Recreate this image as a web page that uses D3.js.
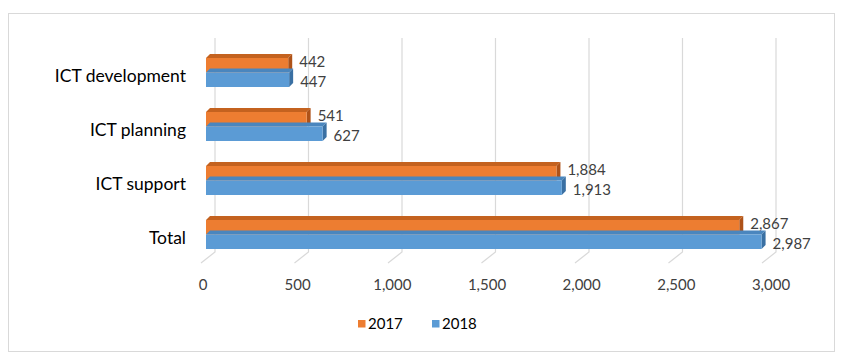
<!DOCTYPE html>
<html><head><meta charset="utf-8">
<script src="https://cdn.jsdelivr.net/npm/d3@7"></script>
<style>
html,body{margin:0;padding:0;background:#fff;}
svg{display:block;font-family:Lato,"Open Sans",sans-serif;}
</style></head>
<body>
<script>
const categories = ["ICT development", "ICT planning", "ICT support", "Total"];
const seriesNames = ["2017", "2018"];
const values2017 = [442, 541, 1884, 2867];
const values2018 = [447, 627, 1913, 2987];
const tickValues = [0, 500, 1000, 1500, 2000, 2500, 3000];

const W = 850, H = 359;
const svg = d3.select("body").append("svg").attr("width", W).attr("height", H);

const colors = {
  "2017": {front: "#ED7D31", top: "#C4621F", side: "#AE5218"},
  "2018": {front: "#5B9BD5", top: "#4A86BE", side: "#3A70A3"}
};

// frame
svg.append("rect").attr("x", 8.5).attr("y", 13.5).attr("width", 826).attr("height", 338)
  .attr("fill", "#fff").attr("stroke", "#d9d9d9").attr("stroke-width", 1);

const xBack = d3.scaleLinear().domain([0, 3000]).range([215, 776]);
const xBar = d3.scaleLinear().domain([0, 3000]).range([206, 764]);
const xLab = d3.scaleLinear().domain([0, 3000]).range([203, 771]);
const y = d3.scaleBand().domain(categories).range([45.5, 261.5]);
const ySub = d3.scaleBand().domain(seriesNames).range([-14.5, 14.5]);

const backTop = 38, backBottom = 252, floorDx = -14, floorDy = 11;

// gridlines (back wall + floor)
const grid = svg.append("g").attr("stroke", "#d9d9d9").attr("stroke-width", 1.2).attr("fill", "none");
tickValues.forEach(t => {
  const xb = xBack(t);
  grid.append("path").attr("d", `M${xb},${backTop}V${backBottom}L${xb + floorDx},${backBottom + floorDy}`);
});

// tick labels
svg.append("g").selectAll("text").data(tickValues).join("text")
  .attr("x", d => xLab(d)).attr("y", 285).attr("dy", "0.35em")
  .attr("text-anchor", "middle").attr("font-size", 15).attr("fill", "#404040")
  .text(d => d3.format(",")(d));

// category labels
svg.append("g").selectAll("text").data(categories).join("text")
  .attr("x", 186).attr("y", d => y(d) + y.bandwidth() / 2 + 3).attr("dy", "0.35em")
  .attr("text-anchor", "end").attr("font-size", 17.5).attr("fill", "#000")
  .text(d => d);

// bars
const d = 4;
const data = [];
categories.forEach((c, i) => {
  data.push({cat: c, s: "2017", v: values2017[i]});
  data.push({cat: c, s: "2018", v: values2018[i]});
});
const bars = svg.append("g");
data.forEach(p => {
  const cy = y(p.cat) + y.bandwidth() / 2;
  const y0 = cy + ySub(p.s), h = ySub.bandwidth();
  const x0 = xBar(0), x1 = xBar(p.v);
  const col = colors[p.s];
  const g = bars.append("g");
  g.append("path").attr("fill", col.top)
    .attr("d", `M${x0},${y0}L${x0 + d},${y0 - d}L${x1 + d},${y0 - d}L${x1},${y0}Z`);
  g.append("path").attr("fill", col.side)
    .attr("d", `M${x1},${y0}L${x1 + d},${y0 - d}L${x1 + d},${y0 + h - d}L${x1},${y0 + h}Z`);
  g.append("rect").attr("x", x0).attr("y", y0).attr("width", x1 - x0).attr("height", h).attr("fill", col.front);
});

// value labels
svg.append("g").selectAll("text").data(data).join("text")
  .attr("x", p => xBar(p.v) + 11)
  .attr("y", p => { const cy = y(p.cat) + y.bandwidth() / 2; return p.s === "2017" ? cy - 10.5 : cy + 9; })
  .attr("dy", "0.35em").attr("font-size", 15).attr("fill", "#404040")
  .text(p => d3.format(",")(p.v));

// legend
const legendItems = [{s: "2017", x: 358}, {s: "2018", x: 432}];
const lg = svg.append("g");
legendItems.forEach(it => {
  lg.append("rect").attr("x", it.x).attr("y", 320).attr("width", 7.5).attr("height", 7.5).attr("fill", colors[it.s].front);
  lg.append("text").attr("x", it.x + 10).attr("y", 324).attr("dy", "0.35em")
    .attr("font-size", 15).attr("fill", "#000").text(it.s);
});
</script>
</body></html>
